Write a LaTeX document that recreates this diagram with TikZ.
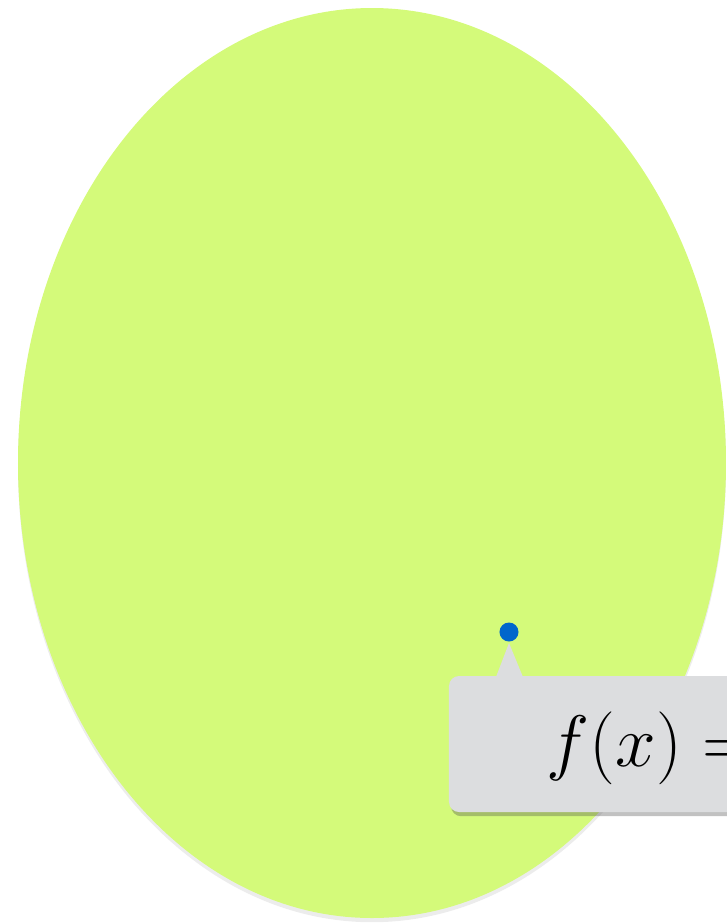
\documentclass[tikz,border=0pt]{standalone}
\usepackage{tikz}
\usetikzlibrary{shadows}
\definecolor{leafgreen}{RGB}{212,250,122}
\definecolor{tipgray}{RGB}{220,221,223}
\definecolor{dotblue}{RGB}{0,102,204}

\begin{document}
\begin{tikzpicture}[
    x=0.01cm, y=-0.01cm,
    blob/.style={fill=leafgreen, drop shadow={opacity=0.15, shadow xshift=0pt, shadow yshift=-1.2pt}},
    tipbox/.style={fill=tipgray, rounded corners=0.1cm, drop shadow={fill=black!70, opacity=0.35, shadow xshift=0.6pt, shadow yshift=-1.2pt}},
    pin/.style={fill=dotblue},
    formula/.style={anchor=base west, inner sep=0pt, font=\fontsize{20.5}{24}\selectfont}
]
\useasboundingbox (0,0) rectangle (727,923);
\clip (0,0) rectangle (727,923);

% Shapes
\fill[blob] (372,463) ellipse [x radius=354, y radius=455];
\fill[tipbox] (449,676) rectangle (820,812);
\fill[tipgray] (496,677) -- (509,643) -- (523,677) -- cycle;

% Nodes
\node (dot) [pin, circle, inner sep=0pt, minimum size=0.19cm] at (509,632) {};
\node (fx) [formula] at (546,766) {$f(x) =$};

\end{tikzpicture}
\end{document}
